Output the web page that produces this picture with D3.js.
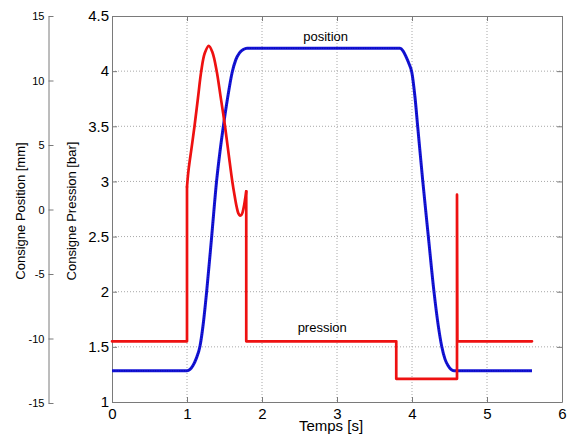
<!DOCTYPE html>
<html><head><meta charset="utf-8">
<script src="https://cdn.jsdelivr.net/npm/d3@7"></script>
<style>
html,body{margin:0;padding:0;background:#fff;}
svg{display:block;font-family:"Liberation Sans",Arial,sans-serif;}
</style></head>
<body>
<svg id="c" width="573" height="434"></svg>
<script>
// ---- data ----
// pressure setpoint [bar] vs time [s]
const pressionT = [0,1.0,1.0,1.02,1.06,1.10,1.145,1.19,1.235,1.29,1.34,1.396,1.45,1.507,1.555,1.604,1.635,1.662,1.685,1.707,1.73,1.755,1.775,1.79,1.79,3.79,3.79,4.60,4.60,4.605,5.6];
const pressionV = [1.55,1.55,2.95,3.10,3.30,3.50,3.75,4.00,4.16,4.23,4.17,4.00,3.76,3.50,3.25,3.00,2.87,2.77,2.71,2.69,2.70,2.76,2.84,2.91,1.55,1.55,1.21,1.21,2.88,1.55,1.55];
// position setpoint [mm] vs time [s]
const positionT = [0,1.0,1.04,1.08,1.12,1.173,1.22,1.262,1.329,1.396,1.44,1.484,1.54,1.604,1.65,1.70,1.75,1.80,3.84,3.88,3.92,3.96,3.996,4.04,4.076,4.142,4.218,4.293,4.35,4.396,4.44,4.48,4.52,4.56,5.6];
const positionV = [-12.5,-12.5,-12.4,-12.1,-11.6,-10.6,-8.7,-6.37,-2.1,2.29,4.5,6.42,8.6,10.68,11.6,12.15,12.4,12.5,12.5,12.3,11.85,11.3,10.68,8.7,6.42,2.29,-2.1,-6.37,-9.0,-10.6,-11.6,-12.1,-12.4,-12.5,-12.5];
const xTicks = [0,1,2,3,4,5,6];
const pTicks = [1,1.5,2,2.5,3,3.5,4,4.5];
const posTicks = [-15,-10,-5,0,5,10,15];
const labels = {x:"Temps [s]", yP:"Consigne Pression [bar]", yPos:"Consigne Position [mm]", pos:"position", pres:"pression"};

// ---- layout ----
const L=112,R=562,T=16,B=402;
const svg=d3.select("#c");
const x=d3.scaleLinear().domain([0,6]).range([L,R]);
const yP=d3.scaleLinear().domain([1,4.5]).range([B,T]);
const yPos=d3.scaleLinear().domain([-15,15]).range([403,16]);
const axCol="#7a7a7a";

// grid
const g=svg.append("g");
g.selectAll(".gx").data(xTicks.slice(1,-1)).join("line")
 .attr("x1",d=>x(d)).attr("x2",d=>x(d)).attr("y1",T).attr("y2",B)
 .attr("stroke","#a8a8a8").attr("stroke-dasharray","1,2").attr("stroke-width",1);
g.selectAll(".gy").data(pTicks.slice(1,-1)).join("line")
 .attr("y1",d=>yP(d)).attr("y2",d=>yP(d)).attr("x1",L).attr("x2",R)
 .attr("stroke","#a8a8a8").attr("stroke-dasharray","1,2").attr("stroke-width",1);

function styleAxis(sel,fs){
  sel.selectAll("path").attr("stroke",axCol);
  sel.selectAll("line").attr("stroke",axCol);
  sel.selectAll("text").attr("fill","#000").style("font-size",fs+"px").style("font-family","Liberation Sans, Arial, sans-serif");
}
// bottom
const ax=svg.append("g").attr("transform",`translate(0,${B})`)
 .call(d3.axisBottom(x).tickValues(xTicks).tickFormat(d=>String(d)).tickSizeInner(-5).tickSizeOuter(0).tickPadding(6));
styleAxis(ax,15);
// top
const at=svg.append("g").attr("transform",`translate(0,${T})`)
 .call(d3.axisTop(x).tickValues(xTicks).tickFormat("").tickSizeInner(-5).tickSizeOuter(0));
styleAxis(at,15);
// left pressure
const al=svg.append("g").attr("transform",`translate(${L},0)`)
 .call(d3.axisLeft(yP).tickValues(pTicks).tickFormat(d=>String(d)).tickSizeInner(-5).tickSizeOuter(0).tickPadding(3));
styleAxis(al,15);
// right
const ar=svg.append("g").attr("transform",`translate(${R},0)`)
 .call(d3.axisRight(yP).tickValues(pTicks).tickFormat("").tickSizeInner(-5).tickSizeOuter(0));
styleAxis(ar,15);
// position axis
const apos=svg.append("g").attr("transform",`translate(48.5,0)`)
 .call(d3.axisLeft(yPos).tickValues(posTicks).tickFormat(d=>String(d)).tickSizeInner(-5).tickSizeOuter(0).tickPadding(4));
styleAxis(apos,11);

// lines
const pres=pressionT.map((t,i)=>[t,pressionV[i]]);
const pos=positionT.map((t,i)=>[t,positionV[i]]);
const lineLin=d3.line().x(d=>x(d[0])).y(d=>yP(d[1])).curve(d3.curveLinear);
const lineSmooth=d3.line().x(d=>x(d[0])).y(d=>yP(d[1])).curve(d3.curveCatmullRom.alpha(0.5));
const linePos=d3.line().x(d=>x(d[0])).y(d=>yPos(d[1])).curve(d3.curveMonotoneX);
svg.append("path").attr("d",linePos(pos)).attr("fill","none").attr("stroke","#1414d8").attr("stroke-width",3);
svg.append("path").attr("d",linePos(pos)).attr("fill","none").attr("stroke","#00007a").attr("stroke-width",1.2).attr("stroke-dasharray","0.8,1.6").attr("opacity",0.6);
// red: steps straight, transient smooth
const iStart=2, iEnd=pressionT.indexOf(1.79);
const redStyle=p=>p.attr("fill","none").attr("stroke","#ee1111").attr("stroke-width",2.7).attr("stroke-linejoin","round").attr("stroke-linecap","round");
svg.append("path").attr("d",lineLin(pres.slice(0,iStart+1))).call(redStyle);
svg.append("path").attr("d",lineSmooth(pres.slice(iStart,iEnd+1))).call(redStyle);
svg.append("path").attr("d",lineLin(pres.slice(iEnd))).call(redStyle);

// annotations
svg.append("text").attr("x",x(2.55)).attr("y",yP(4.27)).text(labels.pos).style("font-size","13px").attr("fill","#000");
svg.append("text").attr("x",x(2.475)).attr("y",yP(1.635)).text(labels.pres).style("font-size","13px").attr("fill","#000");

// axis titles
svg.append("text").attr("x",331).attr("y",431).attr("text-anchor","middle").style("font-size","15px").text(labels.x);
svg.append("text").attr("transform","translate(76,211) rotate(-90)").attr("text-anchor","middle").style("font-size","13px").text(labels.yP);
svg.append("text").attr("transform","translate(25,211) rotate(-90)").attr("text-anchor","middle").style("font-size","13px").text(labels.yPos);
</script>
</body></html>
